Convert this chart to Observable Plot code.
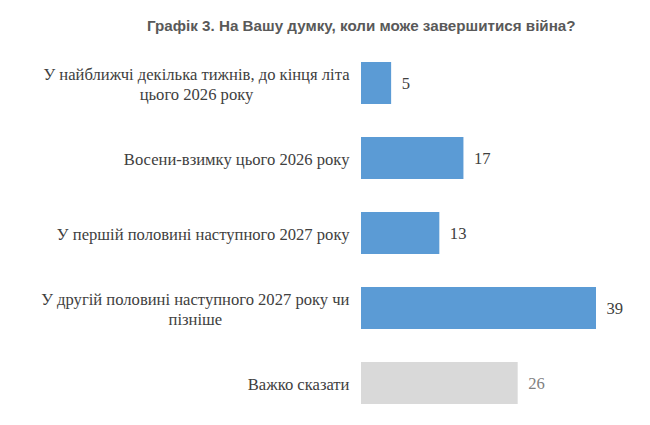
<!DOCTYPE html>
<html>
<head>
<meta charset="utf-8">
<script src="https://cdn.jsdelivr.net/npm/d3@7"></script>
<script src="https://cdn.jsdelivr.net/npm/@observablehq/plot@0.6"></script>
<style>
  body { margin: 0; background: #fff; }
  #title { height: 45px; box-sizing: border-box; padding-top: 17px; padding-left: 147px;
    font: bold 15.2px "Liberation Sans", Arial, sans-serif; color: #595959; white-space: nowrap; }
</style>
</head>
<body>
<div id="title">Графік 3. На Вашу думку, коли може завершитися війна?</div>
<div id="chart"></div>
<script>
const categories = [
  "У найближчі декілька тижнів, до кінця літа\nцього 2026 року",
  "Восени-взимку цього 2026 року",
  "У першій половині наступного 2027 року",
  "У другій половині наступного 2027 року чи\nпізніше",
  "Важко сказати"
];
const values = [5, 17, 13, 39, 26];
const barColors = ["#5B9BD5", "#5B9BD5", "#5B9BD5", "#5B9BD5", "#D9D9D9"];
const valueColors = ["#404040", "#404040", "#404040", "#404040", "#7F7F7F"];

const data = categories.map((c, i) => ({cat: c, value: values[i], fill: barColors[i], vcolor: valueColors[i]}));

const labelSize = 16.6;
const ctx = document.createElement("canvas").getContext("2d");
ctx.font = `${labelSize}px "Liberation Serif"`;
const widest = s => d3.max(s.split("\n"), l => ctx.measureText(l).width);

const labelMarks = data.map(d => Plot.text([d], {
  x: () => 0, y: "cat", text: "cat",
  textAnchor: "middle", dx: -12 - widest(d.cat) / 2,
  lineHeight: 1.18, fill: "#404040",
  fontFamily: "'Liberation Serif', 'Times New Roman', serif", fontSize: labelSize
}));

const chart = Plot.plot({
  width: 650,
  height: 380,
  marginLeft: 361,
  marginRight: 54,
  marginTop: 0,
  marginBottom: 5,
  x: {domain: [0, 39], axis: null},
  y: {domain: categories, padding: 0.44, paddingOuter: 0.22, axis: null},
  marks: [
    Plot.barX(data, {x: "value", y: "cat", fill: "fill"}),
    Plot.text(data, {x: "value", y: "cat", text: d => String(d.value), textAnchor: "start", dx: 10,
      fill: "vcolor", fontFamily: "'Liberation Serif', 'Times New Roman', serif", fontSize: labelSize}),
    ...labelMarks
  ]
});
document.getElementById("chart").append(chart);
</script>
</body>
</html>
